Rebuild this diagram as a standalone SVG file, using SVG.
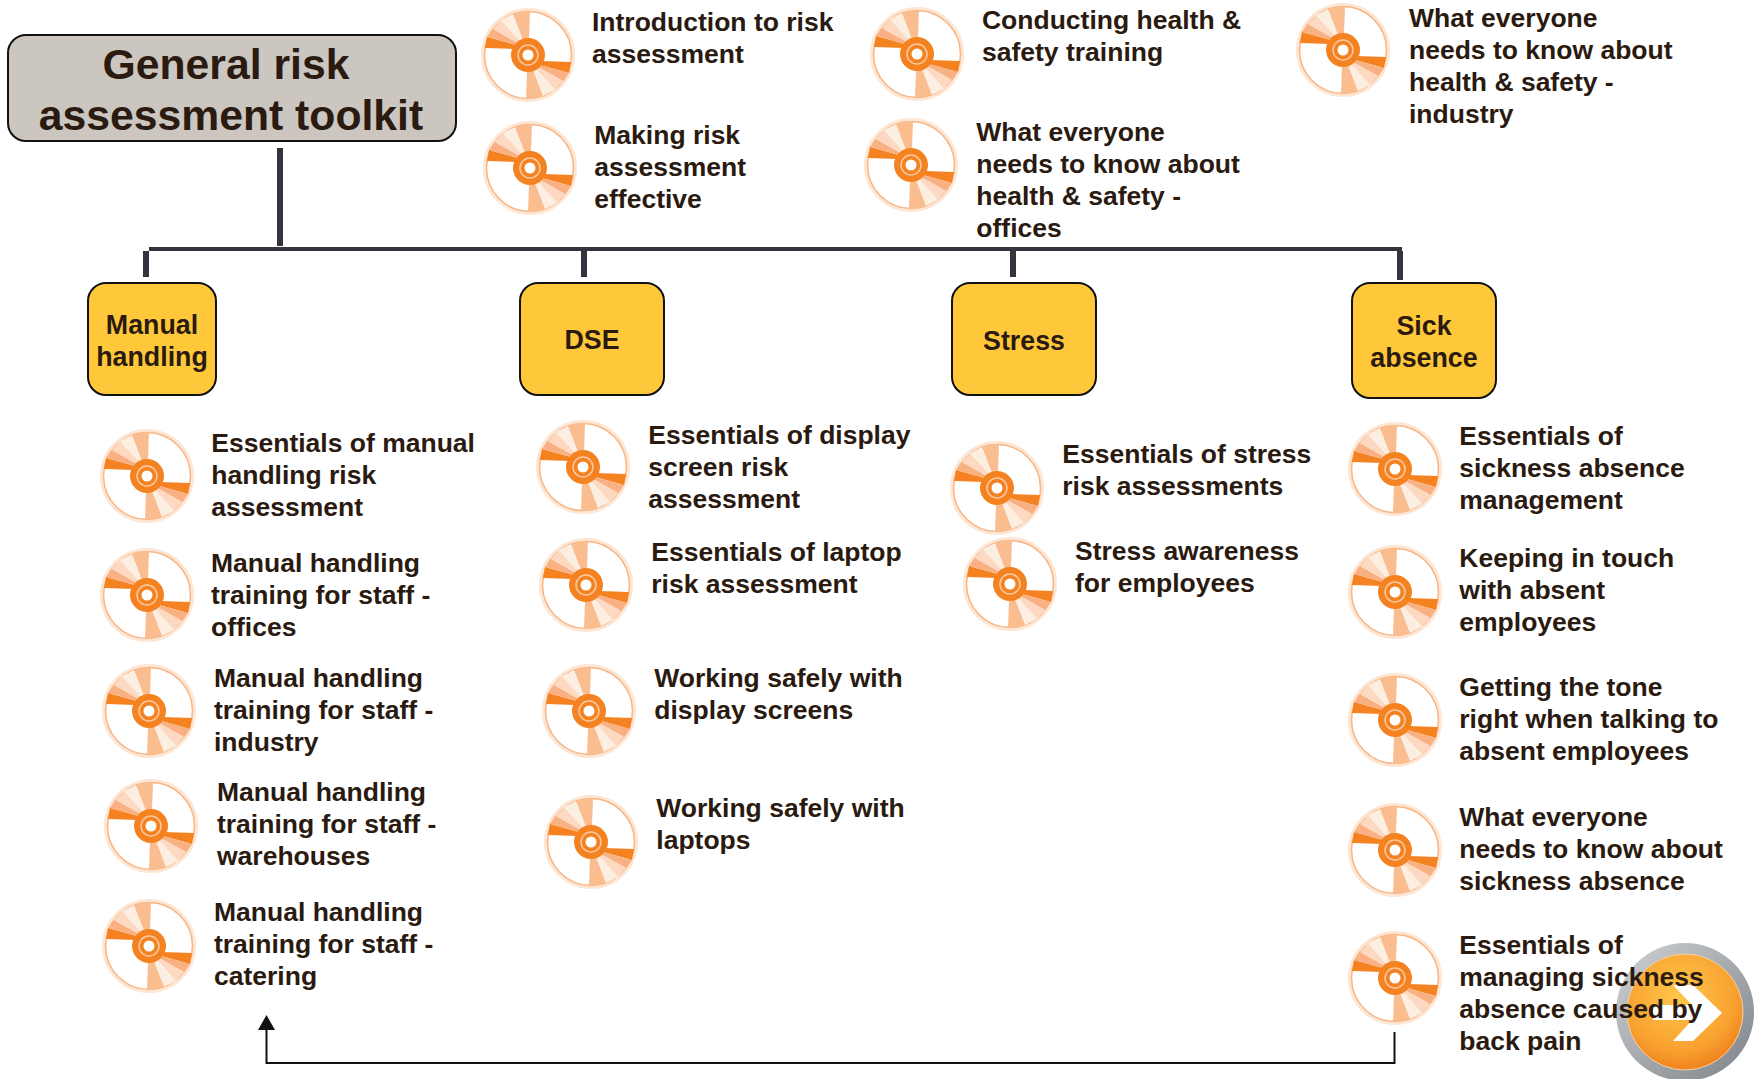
<svg xmlns="http://www.w3.org/2000/svg" xmlns:xlink="http://www.w3.org/1999/xlink" width="1758" height="1079" viewBox="0 0 1758 1079">
<style>
text{font-family:"Liberation Sans",Arial,sans-serif;font-weight:700;fill:#2a1a10}
.t{font-size:26.5px;transform:translate(-0.7px,-1.5px)}
.b{font-size:26.8px;text-anchor:middle}
.h{font-size:42.7px;text-anchor:middle}
.box{fill:#ffc83a;stroke:#111;stroke-width:2}
.bar{fill:#34343f}
</style>
<defs>
<radialGradient id="btn" cx="0.45" cy="0.35" r="0.7"><stop offset="0" stop-color="#ffc64a"/><stop offset="0.7" stop-color="#f8a030"/><stop offset="1" stop-color="#ee7a18"/></radialGradient>
<linearGradient id="ring" x1="0" y1="0" x2="1" y2="1"><stop offset="0" stop-color="#d0d2d4"/><stop offset="1" stop-color="#7c8288"/></linearGradient>
<g id="fan">
<path d="M-43-7L-13-6L-12-10L-41-18Z" fill="#f58220"/>
<path d="M-41-18L-12-10L-10-12L-35-26Z" fill="#f9b183"/>
<path d="M-35-26L-10-12L-8-14L-27-35Z" fill="#fcd9c0"/>
<path d="M-27-35L-8-14L-5-15L-15-41Z" fill="#fdeee2"/>
<path d="M-15-41L-5-15L1-16L2-44L-5-44Z" fill="#f9bd90"/>
</g>
<g id="disc">
<circle r="45.500" fill="#fff" stroke="#fde6d4" stroke-width="3"/>
<circle r="43.500" fill="none" stroke="#f8b482" stroke-width="1.500"/>
<use href="#fan"/>
<use href="#fan" transform="rotate(180)"/>
<circle r="17" fill="#f58220"/>
<circle r="10" fill="none" stroke="#fbc9a2" stroke-width="1.500"/>
<circle r="5.500" fill="#fff"/>
</g>
</defs>
<rect width="1758" height="1079" fill="#fff"/>
<g id="connectors">
<rect class="bar" x="277" y="148" width="6" height="98"/>
<rect class="bar" x="149" y="247" width="1253" height="4"/>
<rect class="bar" x="143" y="251" width="6" height="26"/>
<rect class="bar" x="581" y="251" width="6" height="26"/>
<rect class="bar" x="1010" y="251" width="6" height="26"/>
<rect class="bar" x="1397" y="251" width="6" height="29"/>
<path d="M1394.500 1032V1063H266.500V1030" fill="none" stroke="#111" stroke-width="2"/>
<path d="M266.500 1015L258 1030H275Z" fill="#111"/>
</g>
<g id="button">
<circle cx="1685" cy="1012" r="69" fill="url(#ring)"/>
<circle cx="1685" cy="1012" r="58" fill="url(#btn)" stroke="#f5d2a8" stroke-width="1"/>
<path d="M1673 985H1693L1722 1013L1693 1041H1673L1692 1020H1653V1005H1692Z" fill="#fff"/>
</g>
<g id="root"><rect x="8" y="35" width="448" height="106" rx="18" fill="#cbc6bf" stroke="#111" stroke-width="2"/><text class="h" x="226" y="79">General risk</text><text class="h" x="231" y="130">assessment toolkit</text></g>
<g id="manual"><rect class="box" x="88" y="283" width="128" height="112" rx="18"/><text class="b" x="152" y="334">Manual</text><text class="b" x="152" y="366">handling</text></g>
<g id="dse"><rect class="box" x="520" y="283" width="144" height="112" rx="18"/><text class="b" x="592" y="349">DSE</text></g>
<g id="stress"><rect class="box" x="952" y="283" width="144" height="112" rx="18"/><text class="b" x="1024" y="350">Stress</text></g>
<g id="sick"><rect class="box" x="1352" y="283" width="144" height="115" rx="18"/><text class="b" x="1424" y="335">Sick</text><text class="b" x="1424" y="367">absence</text></g>
<g id="g1"><use href="#disc" x="528" y="55"/><text class="t" x="592.700" y="32">Introduction to risk</text><text class="t" x="592.700" y="64">assessment</text></g>
<g id="g2"><use href="#disc" x="530" y="168"/><text class="t" x="595" y="145">Making risk</text><text class="t" x="595" y="177">assessment</text><text class="t" x="595" y="209">effective</text></g>
<g id="g3"><use href="#disc" x="917" y="54"/><text class="t" x="982.700" y="30">Conducting health &amp;</text><text class="t" x="982.700" y="62">safety training</text></g>
<g id="g4"><use href="#disc" x="911" y="165"/><text class="t" x="977" y="142">What everyone</text><text class="t" x="977" y="174">needs to know about</text><text class="t" x="977" y="206">health &amp; safety -</text><text class="t" x="977" y="238">offices</text></g>
<g id="g5"><use href="#disc" x="1343" y="50"/><text class="t" x="1409.700" y="28">What everyone</text><text class="t" x="1409.700" y="60">needs to know about</text><text class="t" x="1409.700" y="92">health &amp; safety -</text><text class="t" x="1409.700" y="124">industry</text></g>
<g id="m1"><use href="#disc" x="147" y="476"/><text class="t" x="212" y="453">Essentials of manual</text><text class="t" x="212" y="485">handling risk</text><text class="t" x="212" y="517">assessment</text></g>
<g id="m2"><use href="#disc" x="147" y="595"/><text class="t" x="211.700" y="573">Manual handling</text><text class="t" x="211.700" y="605">training for staff -</text><text class="t" x="211.700" y="637">offices</text></g>
<g id="m3"><use href="#disc" x="149" y="711"/><text class="t" x="214.700" y="688">Manual handling</text><text class="t" x="214.700" y="720">training for staff -</text><text class="t" x="214.700" y="752">industry</text></g>
<g id="m4"><use href="#disc" x="151" y="826"/><text class="t" x="217.700" y="802">Manual handling</text><text class="t" x="217.700" y="834">training for staff -</text><text class="t" x="217.700" y="866">warehouses</text></g>
<g id="m5"><use href="#disc" x="149" y="946"/><text class="t" x="214.700" y="922">Manual handling</text><text class="t" x="214.700" y="954">training for staff -</text><text class="t" x="214.700" y="986">catering</text></g>
<g id="d1"><use href="#disc" x="583" y="467"/><text class="t" x="649" y="445">Essentials of display</text><text class="t" x="649" y="477">screen risk</text><text class="t" x="649" y="509">assessment</text></g>
<g id="d2"><use href="#disc" x="586" y="585"/><text class="t" x="652" y="562.500">Essentials of laptop</text><text class="t" x="652" y="594.500">risk assessment</text></g>
<g id="d3"><use href="#disc" x="589" y="711"/><text class="t" x="655" y="688">Working safely with</text><text class="t" x="655" y="720">display screens</text></g>
<g id="d4"><use href="#disc" x="591" y="842"/><text class="t" x="657" y="818">Working safely with</text><text class="t" x="657" y="850">laptops</text></g>
<g id="s1"><use href="#disc" x="997" y="488"/><text class="t" x="1063" y="464">Essentials of stress</text><text class="t" x="1063" y="496">risk assessments</text></g>
<g id="s2"><use href="#disc" x="1010" y="584"/><text class="t" x="1075.700" y="561">Stress awareness</text><text class="t" x="1075.700" y="593">for employees</text></g>
<g id="a1"><use href="#disc" x="1395" y="469"/><text class="t" x="1460" y="446">Essentials of</text><text class="t" x="1460" y="478">sickness absence</text><text class="t" x="1460" y="510">management</text></g>
<g id="a2"><use href="#disc" x="1395" y="592"/><text class="t" x="1460" y="568">Keeping in touch</text><text class="t" x="1460" y="600">with absent</text><text class="t" x="1460" y="632">employees</text></g>
<g id="a3"><use href="#disc" x="1395" y="720"/><text class="t" x="1460" y="697">Getting the tone</text><text class="t" x="1460" y="729">right when talking to</text><text class="t" x="1460" y="761">absent employees</text></g>
<g id="a4"><use href="#disc" x="1395" y="850"/><text class="t" x="1460" y="827">What everyone</text><text class="t" x="1460" y="859">needs to know about</text><text class="t" x="1460" y="891">sickness absence</text></g>
<g id="a5"><use href="#disc" x="1395" y="978"/><text class="t" x="1460" y="955">Essentials of</text><text class="t" x="1460" y="987">managing sickness</text><text class="t" x="1460" y="1019">absence caused by</text><text class="t" x="1460" y="1051">back pain</text></g>
</svg>
